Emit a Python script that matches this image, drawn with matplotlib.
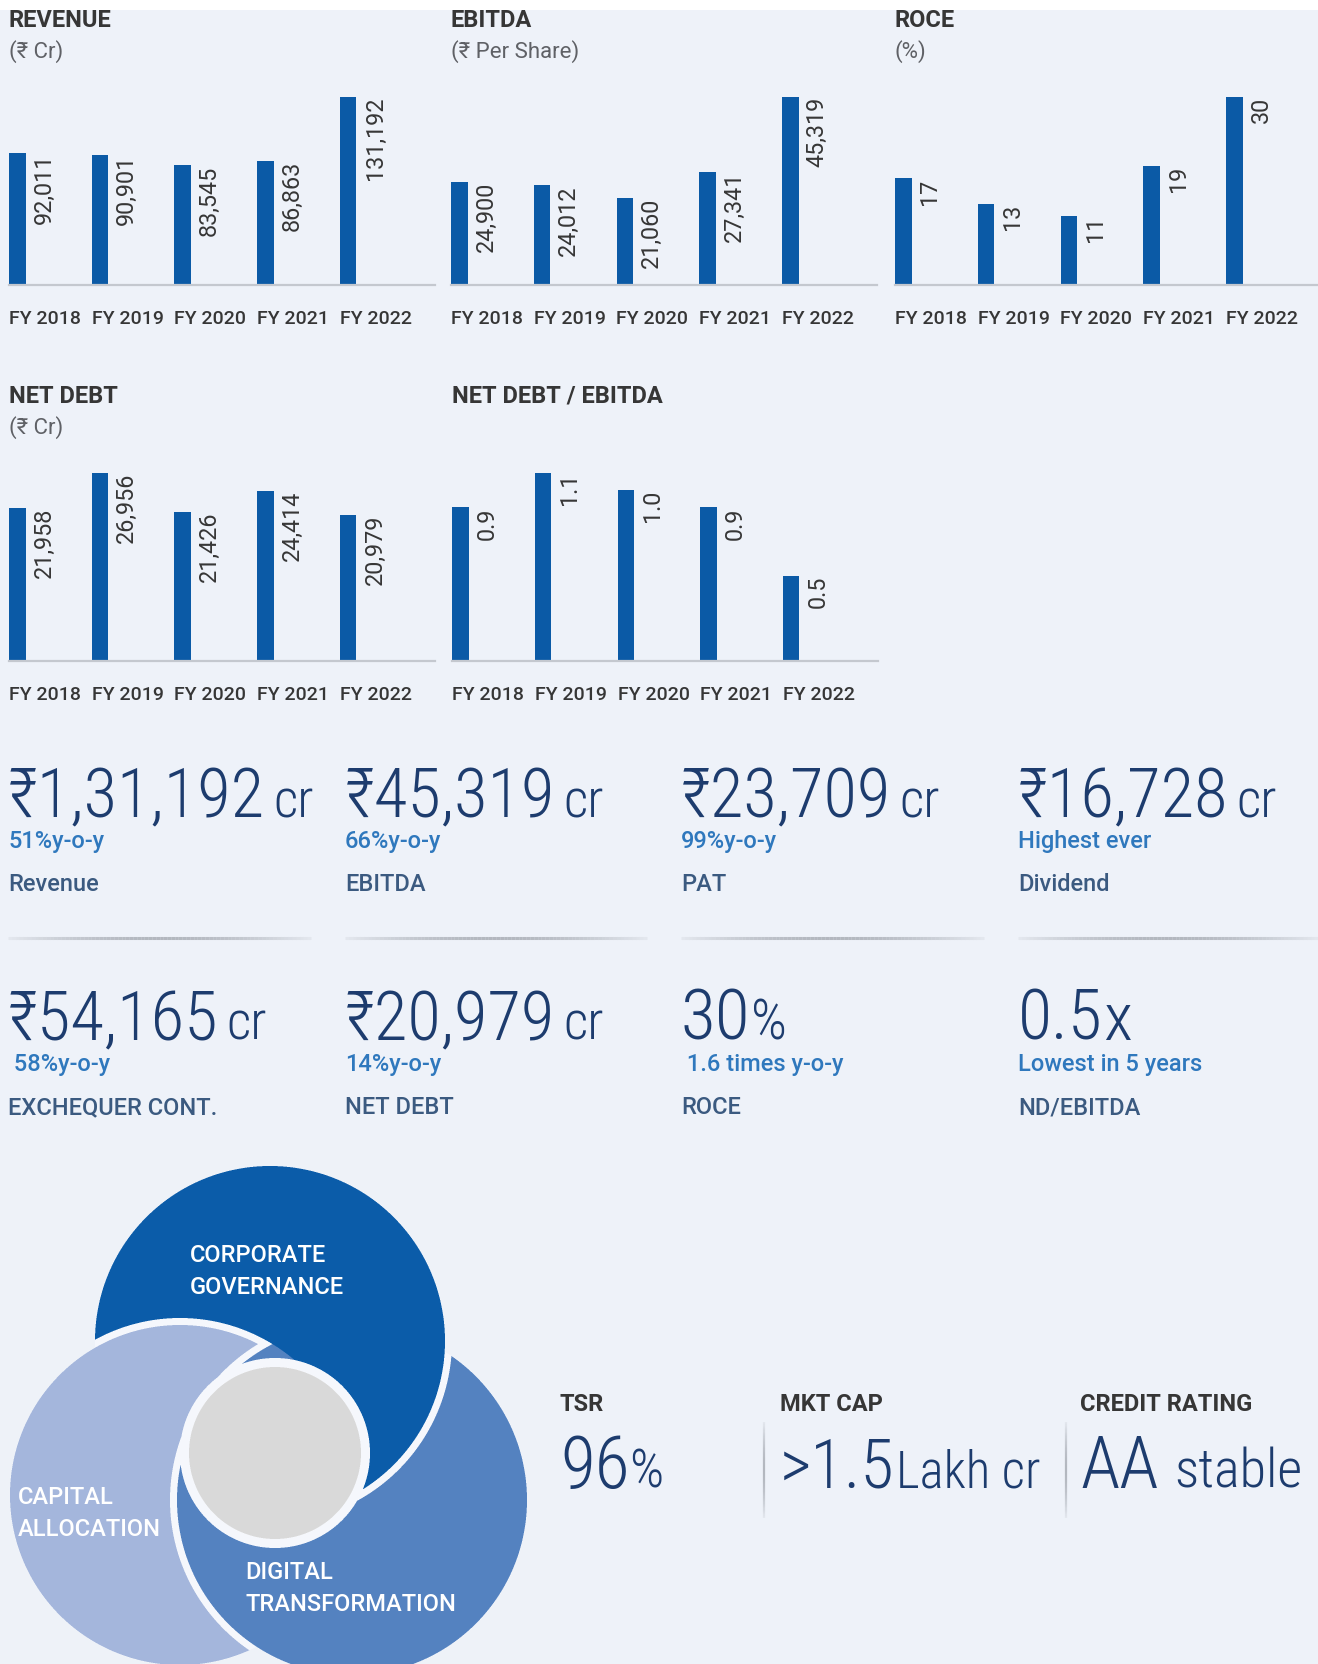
import matplotlib
matplotlib.use('Agg')
import matplotlib.pyplot as plt
import matplotlib.font_manager as fm
from matplotlib.colors import to_rgb
from matplotlib.patches import Rectangle
from matplotlib.collections import LineCollection
import numpy as np

# ---- data ----
years = ['FY 2018', 'FY 2019', 'FY 2020', 'FY 2021', 'FY 2022']
revenue = [92011, 90901, 83545, 86863, 131192]
ebitda = [24900, 24012, 21060, 27341, 45319]
roce = [17, 13, 11, 19, 30]
net_debt = [21958, 26956, 21426, 24414, 20979]
nd_ebitda = [0.9, 1.1, 1.0, 0.9, 0.5]

kpi_values = ['₹1,31,192', '₹45,319', '₹23,709', '₹16,728',
              '₹54,165', '₹20,979', '30', '0.5']
kpi_units = ['cr', 'cr', 'cr', 'cr', 'cr', 'cr', '%', 'x']
kpi_notes = ['51%y-o-y', '66%y-o-y', '99%y-o-y', 'Highest ever',
             ' 58%y-o-y', '14%y-o-y', ' 1.6 times y-o-y', 'Lowest in 5 years']
kpi_labels = ['Revenue', 'EBITDA', 'PAT', 'Dividend',
              'EXCHEQUER CONT.', 'NET DEBT', 'ROCE', 'ND/EBITDA']

pillars = ['CORPORATE\nGOVERNANCE', 'CAPITAL\nALLOCATION', 'DIGITAL\nTRANSFORMATION']

extra_titles = ['TSR', 'MKT CAP', 'CREDIT RATING']
extra_values = ['96', '>1.5', 'AA']
extra_units = ['%', 'Lakh cr', 'stable']

# ---- style ----
W, H = 1318, 1664
BG = '#eef2f9'
BAR = '#0b5aa6'
NAVY = '#1d3c6e'
BLUE = '#2f78bd'
SLATE = '#3b5a80'
DARK = '#363636'
BASE = ['Roboto', 'Noto Sans', 'DejaVu Sans']

names = {f.name for f in fm.fontManager.ttflist}
if 'Roboto Condensed' in names:
    BIGF, BIG = 'Roboto Condensed', 49.5
elif 'Liberation Sans Narrow' in names:
    BIGF, BIG = 'Liberation Sans Narrow', 49.5
else:
    BIGF, BIG = 'Roboto', 43
BIGFAM = [BIGF, 'Noto Sans', 'DejaVu Sans']

plt.rcParams['font.family'] = BASE

fig = plt.figure(figsize=(W / 100, H / 100), dpi=100, facecolor=BG)
ax0 = fig.add_axes([0, 0, 1, 1])
ax0.set_xlim(0, W)
ax0.set_ylim(H, 0)
ax0.axis('off')
ax0.add_patch(Rectangle((0, 0), W, 10, facecolor='white', edgecolor='none'))

STEP = 82.75          # px between bars
BW = 16.5 / STEP      # bar width in data units
SPAN = 426            # px length of baseline


def bar_chart(x0, top, base, vals, fmt, title, sub):
    ax = fig.add_axes([x0 / W, 1 - base / H, SPAN / W, (base - top) / H])
    ax.set_facecolor('none')
    xs = np.arange(len(vals))
    ax.bar(xs, vals, width=BW, color=BAR, zorder=2)
    for x, v in zip(xs, vals):
        ax.text(x + BW / 2 + 7 / STEP, v, fmt(v), rotation=90, ha='left', va='top',
                fontsize=16.8, color=DARK)
    ax.set_xlim(-BW / 2, -BW / 2 + SPAN / STEP)
    ax.set_ylim(0, max(vals))
    ax.set_xticks(xs - BW / 2)
    ax.set_xticklabels(years, ha='left', fontsize=14, fontweight='medium', color=DARK)
    ax.tick_params(length=0, pad=18)
    ax.set_yticks([])
    for s in ('top', 'left', 'right'):
        ax.spines[s].set_visible(False)
    ax.spines['bottom'].set_color('#c4c8cf')
    ax.spines['bottom'].set_linewidth(1.6)
    ax0.text(x0, top - 70, title, fontsize=17, fontweight='bold', color=DARK, va='baseline')
    if sub:
        ax0.text(x0, top - 39, sub, fontsize=16, color='#5f6166', va='baseline')


comma = lambda v: f'{v:,}'
bar_chart(9, 97, 285, revenue, comma, 'REVENUE', '(₹ Cr)')
bar_chart(451, 97, 285, ebitda, comma, 'EBITDA', '(₹ Per Share)')
bar_chart(895, 97, 285, roce, str, 'ROCE', '(%)')
bar_chart(9, 473, 661, net_debt, comma, 'NET DEBT', '(₹ Cr)')
bar_chart(452, 473, 661, nd_ebitda, lambda v: f'{v:.1f}', 'NET DEBT / EBITDA', None)

renderer = fig.canvas.get_renderer()


def rich(x, y, parts):
    for s, size, gap in parts:
        x += gap
        t = ax0.text(x, y, s, fontsize=size, family=BIGFAM, fontweight='light',
                     color=NAVY, va='baseline', ha='left')
        x += t.get_window_extent(renderer).width


def soft_line(x0, y0, x1, y1, n=80, lw=2):
    t = np.linspace(0, 1, n + 1)
    xs, ys = x0 + (x1 - x0) * t, y0 + (y1 - y0) * t
    segs = [[(xs[i], ys[i]), (xs[i + 1], ys[i + 1])] for i in range(n)]
    a = 0.10 + 0.5 * np.sin(np.pi * (t[:-1] + 0.5 / n))
    ax0.add_collection(LineCollection(segs, colors=[(0.55, 0.57, 0.6, ai) for ai in a],
                                      linewidths=lw))


# ---- KPI grid ----
col_x = [8, 345, 681, 1018]
col_end = [311, 647, 984, 1318]
row_base = [817, 1040]
for i, (val, unit, note, lab) in enumerate(zip(kpi_values, kpi_units, kpi_notes, kpi_labels)):
    r, c = divmod(i, 4)
    x, yb = col_x[c], row_base[r]
    if unit == 'cr':
        rich(x, yb, [(val, BIG, 0), (unit, BIG * 0.78, 8)])
    elif unit == '%':
        rich(x, yb, [(val, BIG * 1.04, 0), (unit, BIG * 0.82, 0)])
    else:
        rich(x, yb, [(val, BIG * 1.02, 0), (unit, BIG * 0.98, 0)])
    ax0.text(x, yb + 31, note, fontsize=17, fontweight='medium', color=BLUE, va='baseline')
    ax0.text(x, yb + 74, lab, fontsize=17, fontweight='medium', color=SLATE, va='baseline')
for c in range(4):
    soft_line(col_x[c], 938, col_end[c], 938, lw=2.2)

# ---- three pillars (cyclic overlap, rendered as an image) ----
GAP = 7
circles = {                       # centre x, centre y, radius, colour
    'dark': (270, 1341, 175, '#0b5ca9'),
    'light': (180, 1495, 170, '#a4b6dc'),
    'mid': (352, 1500, 175, '#5482c0'),
    'core': (275, 1453, 86, '#dadada'),
}
SS = 3
VX0, VY0, VW, VH = 0, 1140, 560, H - 1140
gx = VX0 + (np.arange(VW * SS) + 0.5) / SS
gy = VY0 + (np.arange(VH * SS) + 0.5) / SS
GX, GY = np.meshgrid(gx, gy)
img = np.empty(GX.shape + (3,))
img[:] = to_rgb(BG)
inside = {}
halo = {}
for k, (cx, cy, r, col) in circles.items():
    d = np.hypot(GX - cx, GY - cy)
    inside[k] = d < r
    halo[k] = d < r + (9 if k == 'core' else GAP)
any_in = inside['dark'] | inside['light'] | inside['mid']
WHITE = np.array(to_rgb('#f6f8fc'))


def paint(k, mask):
    col = np.array(to_rgb(circles[k][3]))
    ring = mask & ~inside[k] & any_in
    img[ring] = WHITE
    img[mask & inside[k]] = col


paint('dark', halo['dark'])
paint('light', halo['light'])
paint('mid', halo['mid'])
paint('dark', halo['dark'] & halo['mid'] & ~halo['light'])
paint('core', halo['core'])
img = img.reshape(VH, SS, VW, SS, 3).mean(axis=(1, 3))
ax0.imshow(img, extent=(VX0, VX0 + VW, VY0 + VH, VY0), interpolation='nearest',
           aspect='auto', zorder=0.5)
ax0.set_xlim(0, W)
ax0.set_ylim(H, 0)

for text, (px, py) in zip(pillars, [(190, 1262), (18, 1504), (245, 1579)]):
    for k, line in enumerate(text.split('\n')):
        ax0.text(px, py + 32 * k, line, fontsize=17, fontweight='medium',
                 color='white', va='baseline')

# ---- TSR / MKT CAP / CREDIT RATING ----
ex_x = [560, 780, 1080]
for x, t, v, u in zip(ex_x, extra_titles, extra_values, extra_units):
    ax0.text(x, 1411, t, fontsize=17, fontweight='bold', color=DARK, va='baseline')
    if u == '%':
        rich(x, 1488, [(v, BIG + 2, 0), (u, (BIG + 2) * 0.75, 0)])
    elif u == 'stable':
        rich(x, 1488, [(v, BIG + 2, 0), (u, (BIG + 2) * 0.76, 16)])
    else:
        rich(x, 1488, [(v, BIG, 0), (u, BIG * 0.74, 1)])
for x in (764, 1066):
    soft_line(x, 1422, x, 1518, lw=1.6)

fig.savefig('out.png', dpi=100, facecolor=BG)
